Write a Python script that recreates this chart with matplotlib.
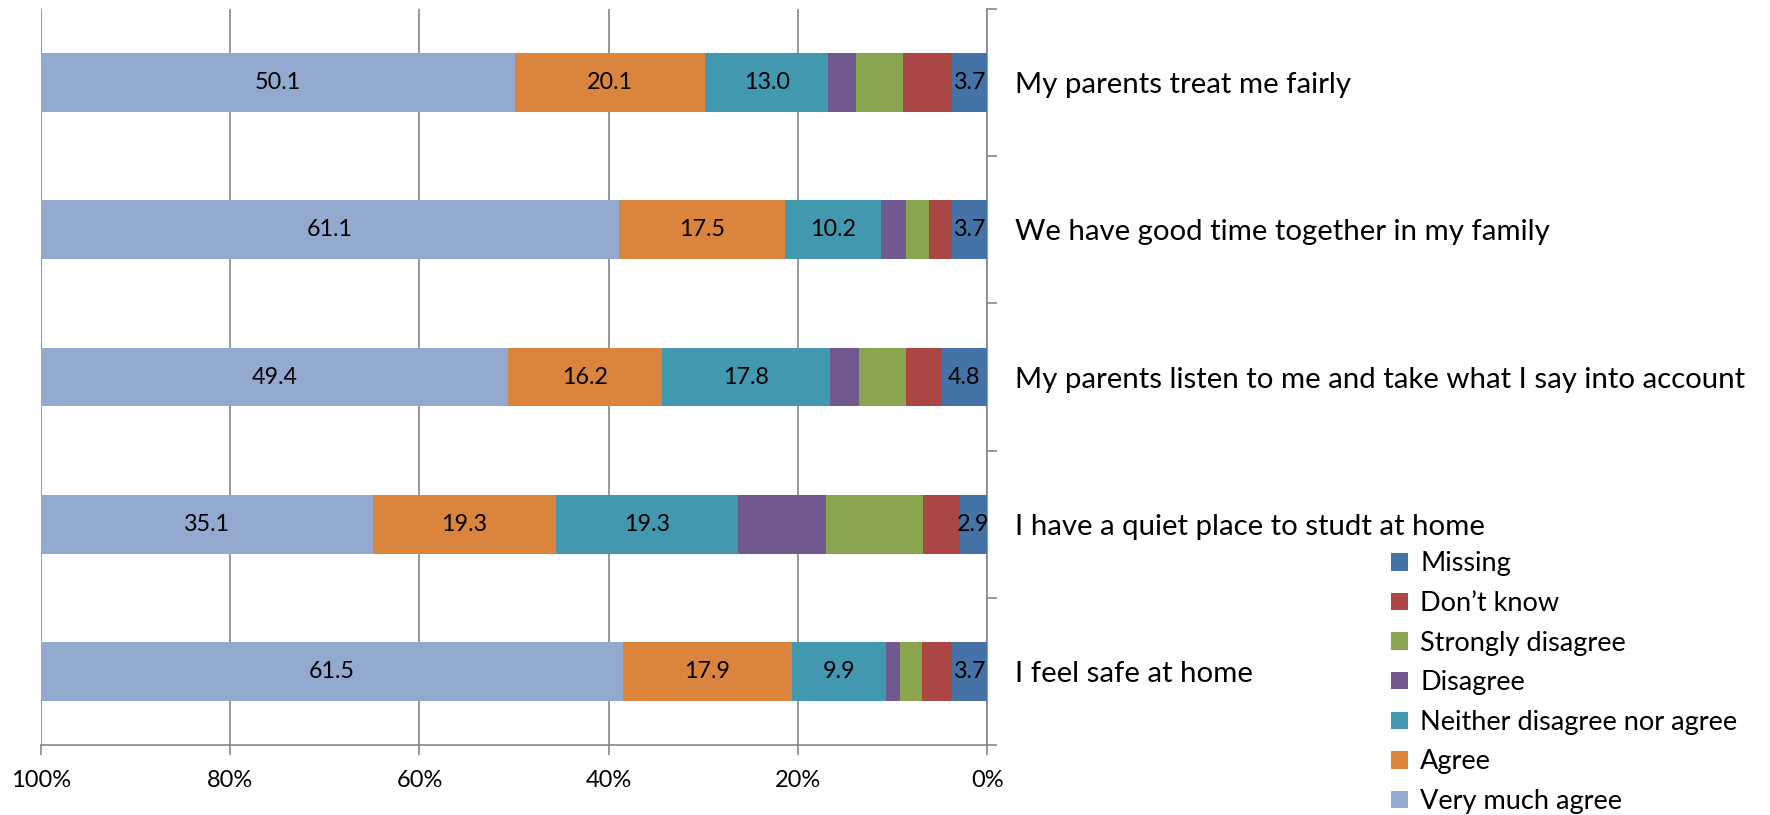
import matplotlib
matplotlib.use("Agg")
import matplotlib.pyplot as plt
import numpy as np

plt.rcParams['font.family'] = ['Lato', 'DejaVu Sans']

categories = ["I feel safe at home",
              "I have a quiet place to studt at home",
              "My parents listen to me and take what I say into account",
              "We have good time together in my family",
              "My parents treat me fairly"]

series_names = ["Missing", "Don\u2019t know", "Strongly disagree", "Disagree",
                "Neither disagree nor agree", "Agree", "Very much agree"]

missing = [3.7, 2.9, 4.8, 3.7, 3.7]
dont_know = [3.2, 3.9, 3.8, 2.4, 5.2]
strongly_disagree = [2.3, 10.2, 4.9, 2.5, 5.0]
disagree = [1.5, 9.3, 3.1, 2.6, 2.9]
neither = [9.9, 19.3, 17.8, 10.2, 13.0]
agree = [17.9, 19.3, 16.2, 17.5, 20.1]
very_much = [61.5, 35.1, 49.4, 61.1, 50.1]

series = [missing, dont_know, strongly_disagree, disagree, neither, agree, very_much]
labelled = [True, False, False, False, True, True, True]
colors = ["#4572A7", "#AA4643", "#89A54E", "#71588F", "#4198AF", "#DB843D", "#93A9CF"]

fig = plt.figure(figsize=(17.7, 8.15), dpi=100)
ax = fig.add_axes([0.0232, 0.0859, 0.5345, 0.903])

y = np.arange(len(categories))
left = np.zeros(len(categories))
handles = []
for vals, name, col, lab in zip(series, series_names, colors, labelled):
    vals = np.array(vals)
    bars = ax.barh(y, vals, left=left, height=0.4, color=col, label=name,
                   edgecolor='none', zorder=3)
    handles.append(bars)
    if lab:
        for yi, l, v in zip(y, left, vals):
            ax.text(l + v / 2, yi, f"{v:.1f}", ha='center', va='center',
                    fontsize=16.8, color='black', zorder=4)
    left = left + vals

ax.set_xlim(100, 0)
ax.set_ylim(-0.5, len(categories) - 0.5)
ax.set_xticks([100, 80, 60, 40, 20, 0])
ax.set_xticklabels(["100%", "80%", "60%", "40%", "20%", "0%"], fontsize=17)
ax.xaxis.grid(True, color='#868686', linewidth=1.2, zorder=0)

ax.yaxis.tick_right()
ax.set_yticks(np.arange(-0.5, len(categories), 1.0))
ax.set_yticklabels([])
ax.set_yticks(y, minor=True)
ax.set_yticklabels(categories, minor=True, fontsize=21.2)
ax.tick_params(axis='y', which='minor', length=0, pad=20)
ax.tick_params(axis='y', which='major', length=7, width=1.2, color='#868686', direction='out')
ax.tick_params(axis='x', length=7, width=1.2, color='#868686', direction='out', pad=11)

for s in ['top', 'left']:
    ax.spines[s].set_visible(False)
for s in ['bottom', 'right']:
    ax.spines[s].set_color('#868686')
    ax.spines[s].set_linewidth(1.2)

leg = fig.legend(handles=handles, labels=series_names,
                 loc='upper left', bbox_to_anchor=(0.786, 0.3235), frameon=False,
                 borderpad=0, borderaxespad=0,
                 fontsize=19.5, handlelength=0.62, handleheight=0.62,
                 handletextpad=0.45, labelspacing=0.54)

fig.savefig("out.png", dpi=100)
